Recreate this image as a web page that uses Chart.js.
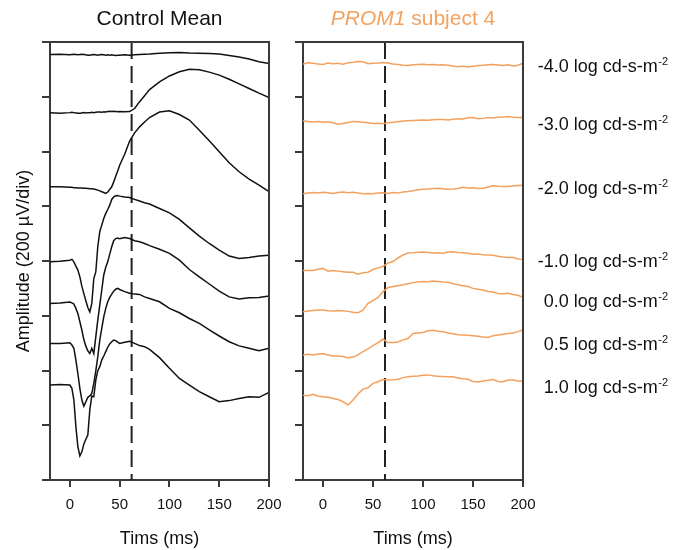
<!DOCTYPE html>
<html><head><meta charset="utf-8">
<script src="https://cdn.jsdelivr.net/npm/chart.js@4.4.1/dist/chart.umd.min.js"></script>
<style>
html,body{margin:0;padding:0;background:#fff;}
#wrap{position:relative;width:689px;height:550px;background:#fff;overflow:hidden;}
#c1{position:absolute;left:0;top:0;}
#c2{position:absolute;left:280px;top:0;}
</style></head><body>
<div id="wrap"><canvas id="c1" width="285" height="550"></canvas><canvas id="c2" width="409" height="550"></canvas></div>
<script>
// ---------- data ----------
const intensityLabels = ['-4.0','-3.0','-2.0','-1.0','0.0','0.5','1.0'];
const flashMarkerMs = 62;
const xTickValues = [0, 50, 100, 150, 200];

// Control mean: time (ms) and amplitude (µV, relative to each trace baseline)
const ctrlTime = [-20,-10,0,2,4,6,8,10,12,14,16,18,20,22,24,26,28,30,32,34,36,38,40,42,44,46,48,50,55,60,65,70,75,80,90,100,110,120,130,140,150,160,170,180,190,200];
const ctrlM40 = [0,1,-1,0,1,0,-1,0,1,0,-1,-2,-2,-1,0,-1,-2,-1,0,-1,-2,-1,-2,-1,-2,-3,-2,-2,-1,-2,-1,0,1,2,5,7,8,6,5,4,2,-3,-9,-16,-26,-33];
const ctrlM30 = [0,-2,0,1,0,-1,-2,-2,-1,0,-1,0,0,1,0,1,2,2,1,3,2,4,5,4,5,4,3,4,3,4,15,40,62,84,112,134,149,158,157,148,137,122,105,88,71,55];
const ctrlM20 = [0,0,-2,-2,-3,-3,-4,-4,-4,-5,-5,-6,-7,-7,-8,-10,-12,-15,-18,-21,-24,-19,-10,0,18,39,58,79,119,167,197,219,237,253,273,278,264,244,207,168,128,88,55,28,6,-18];
const ctrlM10 = [0,2,6,9,0,-16,-30,-55,-89,-116,-142,-167,-183,-152,-61,-37,55,110,134,158,177,191,207,228,237,241,242,240,237,235,228,222,216,211,195,179,155,124,94,67,43,21,12,16,21,24];
const ctrlP00 = [0,2,5,2,-2,-18,-37,-67,-97,-132,-156,-173,-183,-164,-183,-122,-61,-6,49,104,132,152,180,207,229,237,239,236,241,237,229,225,219,211,198,183,158,124,97,71,45,24,16,21,22,27];
const ctrlP05 = [0,0,2,-6,-18,-61,-110,-164,-207,-229,-213,-197,-192,-183,-146,-100,-49,12,55,97,128,152,168,180,191,198,201,197,189,183,180,179,170,164,152,128,112,91,73,49,27,6,-9,-18,-27,-18];
const ctrlP10 = [0,2,0,-12,-55,-152,-225,-259,-244,-216,-198,-183,-91,-40,-43,18,52,67,91,106,122,138,150,158,164,162,157,152,156,160,152,144,140,130,100,61,24,0,-24,-43,-61,-57,-49,-43,-45,-27];
const ctrlBaselines = [1554,1342,1071,797,645,499,347]; // µV offset of each trace

// PROM1 subject 4
const subjTime = [-20,-15,-10,-5,0,5,10,15,20,25,30,35,40,45,50,55,60,65,70,75,80,85,90,95,100,105,110,115,120,125,130,135,140,145,150,155,160,165,170,175,180,185,190,195,200];
const subjM40 = [0,4,2,0,-2,3,1,2,-1,4,6,9,8,1,2,3,5,3,0,-2,-5,-6,-3,-2,-1,-3,-2,-4,-3,-5,-8,-10,-9,-11,-9,-6,-5,-3,-2,-4,-6,-3,-8,-5,3];
const subjM30 = [0,-2,-4,-2,-5,-3,-7,-12,-10,-6,-2,-3,-5,-7,-10,-9,-11,-7,-5,-3,-1,0,1,2,3,2,4,5,5,3,6,8,7,11,12,8,9,12,10,13,14,16,13,12,12];
const subjM20 = [-2,0,2,0,3,1,-1,2,4,1,3,0,-2,-1,-2,0,1,-1,2,0,4,6,9,12,14,15,17,18,16,14,15,17,21,19,20,17,18,22,27,25,24,24,26,28,29];
const subjM10 = [0,0,0,5,8,-2,0,-2,-4,-6,-6,-13,-8,-6,4,10,15,28,33,46,57,64,65,67,68,66,64,65,63,68,69,66,65,63,60,61,58,57,56,52,50,48,48,42,41];
const subjP00 = [0,2,4,6,6,3,2,4,3,1,-2,-4,5,30,40,52,73,88,92,95,98,102,106,108,110,109,112,110,108,107,102,98,95,92,85,82,79,74,72,66,65,67,63,60,52];
const subjP05 = [0,2,0,3,4,0,-4,-4,-6,-10,-8,0,12,22,34,45,58,45,45,47,55,60,78,80,82,88,90,86,85,80,77,74,73,72,70,68,65,64,70,73,75,78,80,85,91];
const subjP10 = [0,-2,3,-4,-6,-8,-12,-16,-24,-36,-18,4,22,27,43,49,57,55,56,58,64,67,69,70,73,74,71,69,68,67,67,63,60,58,50,48,52,54,57,50,49,55,55,52,52];
const subjBaselines = [1520,1312,1048,765,615,457,310];
const labelLevels = [1491,1279,1045,779,633,475,319]; // µV level of each intensity label

// ---------- styling ----------
const FONT = "'Liberation Sans', Arial, sans-serif";
const AXIS = '#3a3a3a';
const BLACK = '#111111';
const ORANGE = '#F3A15E';
Chart.defaults.font.family = FONT;

const ctrlSeries = [ctrlM40, ctrlM30, ctrlM20, ctrlM10, ctrlP00, ctrlP05, ctrlP10];
const subjSeries = [subjM40, subjM30, subjM20, subjM10, subjP00, subjP05, subjP10];

function traces(time, series, bases, color) {
  return series.map((vals, k) => ({
    label: intensityLabels[k],
    data: time.map((t, i) => ({x: t, y: vals[i] + bases[k]})),
    borderColor: color, borderWidth: 1.5, pointRadius: 0, tension: 0, fill: false
  }));
}
function marker() {
  return {
    label: 'flash', data: [{x: flashMarkerMs, y: 1600}, {x: flashMarkerMs, y: 0}],
    borderColor: '#222', borderWidth: 2, borderDash: [17, 7], pointRadius: 0, fill: false
  };
}

const boxPlugin = {
  id: 'box',
  afterDraw(chart) {
    const {ctx, chartArea: a} = chart;
    ctx.save();
    ctx.strokeStyle = AXIS; ctx.lineWidth = 2;
    ctx.beginPath();
    ctx.moveTo(a.left, a.top); ctx.lineTo(a.right, a.top); ctx.lineTo(a.right, a.bottom);
    ctx.stroke();
    ctx.restore();
  }
};

const titlePlugin = {
  id: 'panelTitle',
  afterDraw(chart, args, opts) {
    if (!opts.parts) return;
    const {ctx, chartArea: a} = chart;
    ctx.save();
    ctx.fillStyle = opts.color;
    ctx.textBaseline = 'alphabetic';
    const fonts = opts.parts.map(p => (p.italic ? 'italic ' : '') + '21px ' + FONT);
    let total = 0;
    const widths = opts.parts.map((p, i) => { ctx.font = fonts[i]; const w = ctx.measureText(p.text).width; total += w; return w; });
    let x = (a.left + a.right) / 2 - total / 2;
    opts.parts.forEach((p, i) => { ctx.font = fonts[i]; ctx.textAlign = 'left'; ctx.fillText(p.text, x, 25); x += widths[i]; });
    ctx.restore();
  }
};

const intensityPlugin = {
  id: 'intensity',
  afterDraw(chart, args, opts) {
    if (!opts.show) return;
    const {ctx, chartArea: a, scales: {y}} = chart;
    ctx.save();
    ctx.fillStyle = BLACK;
    ctx.textBaseline = 'alphabetic';
    const xr = a.right + 145;
    labelLevels.forEach((lv, k) => {
      const py = y.getPixelForValue(lv);
      ctx.font = '11px ' + FONT;
      ctx.textAlign = 'right';
      const supW = ctx.measureText('-2').width;
      ctx.fillText('-2', xr, py - 7);
      ctx.font = '18px ' + FONT;
      ctx.fillText(intensityLabels[k] + ' log cd-s-m', xr - supW - 0.5, py);
    });
    ctx.restore();
  }
};

function makeOptions(cfg) {
  return {
    responsive: false, animation: false, devicePixelRatio: 1,
    layout: {padding: {top: 42, right: cfg.padRight, bottom: 0, left: 0}},
    plugins: {legend: {display: false}, tooltip: {enabled: false},
      panelTitle: {parts: cfg.title, color: cfg.titleColor},
      intensity: {show: cfg.labels}},
    scales: {
      x: {type: 'linear', position: 'bottom', min: -20, max: 200,
        afterBuildTicks: s => { s.ticks = xTickValues.map(v => ({value: v})); },
        afterFit: s => { s.height = 70; s.paddingLeft = 0; s.paddingRight = 0; },
        ticks: {font: {size: 15}, color: BLACK, padding: 9, maxRotation: 0},
        grid: {drawOnChartArea: false, drawTicks: true, tickLength: 7, color: AXIS, lineWidth: 2},
        border: {display: true, color: AXIS, width: 2},
        title: {display: true, text: 'Tims (ms)', font: {size: 18}, color: BLACK, padding: {top: 0, bottom: 0}}
      },
      y: {type: 'linear', min: 0, max: 1600,
        afterFit: s => { s.width = cfg.yWidth; s.paddingTop = 0; s.paddingBottom = 0; },
        ticks: {display: false, stepSize: 200},
        grid: {drawOnChartArea: false, drawTicks: true, tickLength: 8, color: AXIS, lineWidth: 2},
        border: {display: true, color: AXIS, width: 2},
        title: {display: cfg.yTitle, text: 'Amplitude (200 µV/div)', font: {size: 18}, color: BLACK, padding: {top: 13, bottom: 0}}
      }
    }
  };
}

new Chart(document.getElementById('c1'), {
  type: 'line',
  data: {datasets: [...traces(ctrlTime, ctrlSeries, ctrlBaselines, BLACK), marker()]},
  options: makeOptions({padRight: 16, yWidth: 50, yTitle: true, labels: false,
    title: [{text: 'Control Mean', italic: false}], titleColor: BLACK}),
  plugins: [boxPlugin, titlePlugin, intensityPlugin]
});

new Chart(document.getElementById('c2'), {
  type: 'line',
  data: {datasets: [...traces(subjTime, subjSeries, subjBaselines, ORANGE), marker()]},
  options: makeOptions({padRight: 166, yWidth: 23, yTitle: false, labels: true,
    title: [{text: 'PROM1', italic: true}, {text: ' subject 4', italic: false}], titleColor: ORANGE}),
  plugins: [boxPlugin, titlePlugin, intensityPlugin]
});
</script>
</body></html>
